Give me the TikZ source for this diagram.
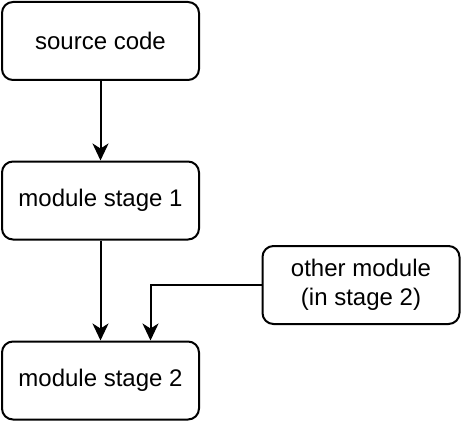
\documentclass[tikz,border=0pt]{standalone}
\usepackage{fontspec}
\setmainfont{Liberation Sans}
\usetikzlibrary{arrows.meta}
\begin{document}
\begin{tikzpicture}[x=1pt,y=-1pt,
  box/.style={draw,line width=2pt,rounded corners=11pt,minimum width=197pt,minimum height=78pt,inner sep=0pt,align=center,font=\fontsize{24}{29}\selectfont},
  conn/.style={line width=2pt,-{Stealth[length=17pt,width=16pt,inset=5pt]}}]
\useasboundingbox (0,0) rectangle (462,422);
\node[box] (src) at (100.5,41) {source code};
\node[box] (s1) at (100.5,200.5) {module stage 1};
\node[box] (s2) at (100.5,380.5) {module stage 2};
\node[box] (om) at (361,285) {other module\\(in stage 2)};
\draw[conn] (src) -- (s1);
\draw[conn] (s1) -- (s2);
\draw[conn] (om.west) -| ([xshift=50pt]s2.north);
\end{tikzpicture}
\end{document}
